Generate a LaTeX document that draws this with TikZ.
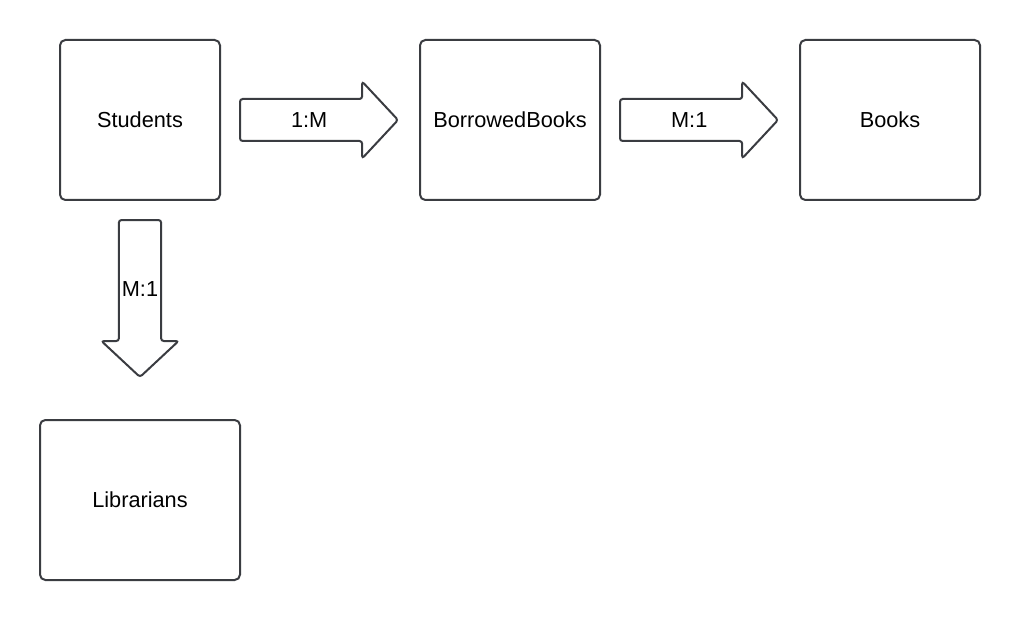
\documentclass[tikz,border=0pt]{standalone}
\usepackage{fontspec}
\setmainfont{Liberation Sans}
\usetikzlibrary{positioning,shapes.arrows}
\definecolor{edge}{HTML}{3A3C41}
\tikzset{
  entity/.style={draw=edge,line width=1.5pt,rounded corners=4pt,
    minimum width=135pt,minimum height=120pt,inner sep=0pt,outer sep=0pt},
  linkarrow/.style={single arrow,draw=edge,line width=1.5pt,outer sep=0pt,
    rounded corners=2pt,minimum height=118.5pt,
    single arrow head extend=13.1pt,single arrow tip angle=94,
    text height=12pt,text depth=0pt,inner ysep=9pt,inner xsep=2pt},
}
\tikzstyle{every node}=[font=\fontsize{16.3}{19}\selectfont]

\begin{document}
\begin{tikzpicture}
  \useasboundingbox (0,0) rectangle (765pt,-465pt);
  \node[entity,minimum width=120pt] (stu) at (105pt,-90pt) {Students};
  \node[entity] (bor) at (382.5pt,-90pt) {BorrowedBooks};
  \node[entity] (bks) at (667.5pt,-90pt) {Books};
  \node[entity,minimum width=150pt] (lib) at (105pt,-375pt) {Librarians};

  \node[linkarrow,right=15pt of stu] (stubor) {1:M};
  \node[linkarrow,right=15pt of bor] (borbks) {M:1};
  \node[linkarrow,shape border rotate=270,minimum height=117.75pt,
    inner xsep=1.5pt,below=15pt of stu] (stulib) {M:1};
\end{tikzpicture}
\end{document}
